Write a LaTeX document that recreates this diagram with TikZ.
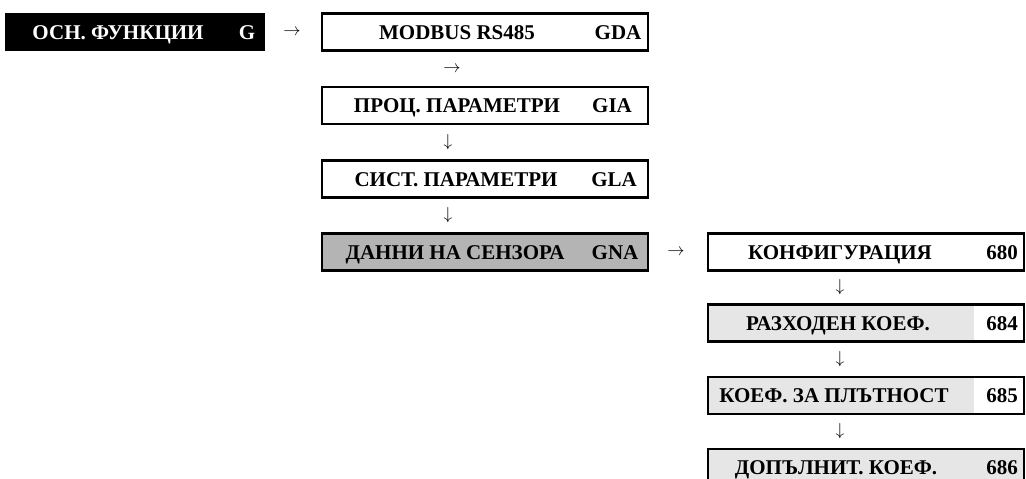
\documentclass[tikz,border=0pt]{standalone}
\usepackage{fontspec}
\setmainfont{Liberation Serif}
\begin{document}
\definecolor{menugray}{HTML}{B4B4B4}
\definecolor{itemgray}{HTML}{E6E6E6}
\begin{tikzpicture}[x=1pt,y=-1pt,
  every node/.style={font=\fontsize{21}{25}\selectfont\bfseries},
  frame/.style={draw=black,line width=2.6pt,rectangle,inner sep=0pt,minimum height=37pt},
  leftframe/.style={frame,minimum width=326pt},
  rightframe/.style={frame,minimum width=316pt},
  codecell/.style={path picture={\fill[white]
      ([xshift=-50pt]path picture bounding box.north east) rectangle
      (path picture bounding box.south east);}},
  txt/.style={inner sep=0pt,text height=14pt,text depth=0pt},
  glyph/.style={inner sep=0pt,font=\fontsize{19}{23}\selectfont}]
\useasboundingbox (0,0) rectangle (1026,479);
\clip (0,0) rectangle (1026,479);

% main menu block
\node[fill=black,inner sep=0pt,minimum width=260pt,minimum height=38pt] (g) at (135,32) {};
\node[txt,text=white] (gt) at (118,32) {ОСН. ФУНКЦИИ};
\node[txt,text=white] (gc) at (247,32) {G};
\node[glyph] (a0) at (292,32) {$\rightarrow$};

% function groups
\node[leftframe] (gda) at (485,32) {};
\node[txt] (gdat) at (457,32) {MODBUS RS485};
\node[txt] (gdac) at (618,32) {GDA};
\node[glyph] (a1) at (452,69) {$\rightarrow$};

\node[leftframe] (gia) at (485,105.5) {};
\node[txt] (giat) at (457,105.5) {ПРОЦ. ПАРАМЕТРИ};
\node[txt] (giac) at (612,105.5) {GIA};
\node[glyph] (a2) at (448,142) {$\downarrow$};

\node[leftframe] (gla) at (485,179) {};
\node[txt] (glat) at (456,179) {СИСТ. ПАРАМЕТРИ};
\node[txt] (glac) at (614,179) {GLA};
\node[glyph] (a3) at (448,215) {$\downarrow$};

\node[leftframe,fill=menugray] (gna) at (485,252) {};
\node[txt] (gnat) at (455,252) {ДАННИ НА СЕНЗОРА};
\node[txt] (gnac) at (615,252) {GNA};
\node[glyph] (a4) at (676,252) {$\rightarrow$};

% sensor data functions
\node[rightframe] (f680) at (866,252) {};
\node[txt] (f680t) at (840,252) {КОНФИГУРАЦИЯ};
\node[txt] (f680c) at (1002,252) {680};
\node[glyph] (a5) at (840,287) {$\downarrow$};

\node[rightframe,fill=itemgray,codecell] (f684) at (866,323) {};
\node[txt] (f684t) at (838,323) {РАЗХОДЕН КОЕФ.};
\node[txt] (f684c) at (1002,323) {684};
\node[glyph] (a6) at (840,359) {$\downarrow$};

\node[rightframe,fill=itemgray,codecell] (f685) at (866,395.5) {};
\node[txt] (f685t) at (834,395.5) {КОЕФ. ЗА ПЛЪТНОСТ};
\node[txt] (f685c) at (1002,395.5) {685};
\node[glyph] (a7) at (840,431) {$\downarrow$};

\node[rightframe,fill=itemgray] (f686) at (866,467.5) {};
\node[txt] (f686t) at (836,467.5) {ДОПЪЛНИТ. КОЕФ.};
\node[txt] (f686c) at (1002,467.5) {686};
\end{tikzpicture}
\end{document}
